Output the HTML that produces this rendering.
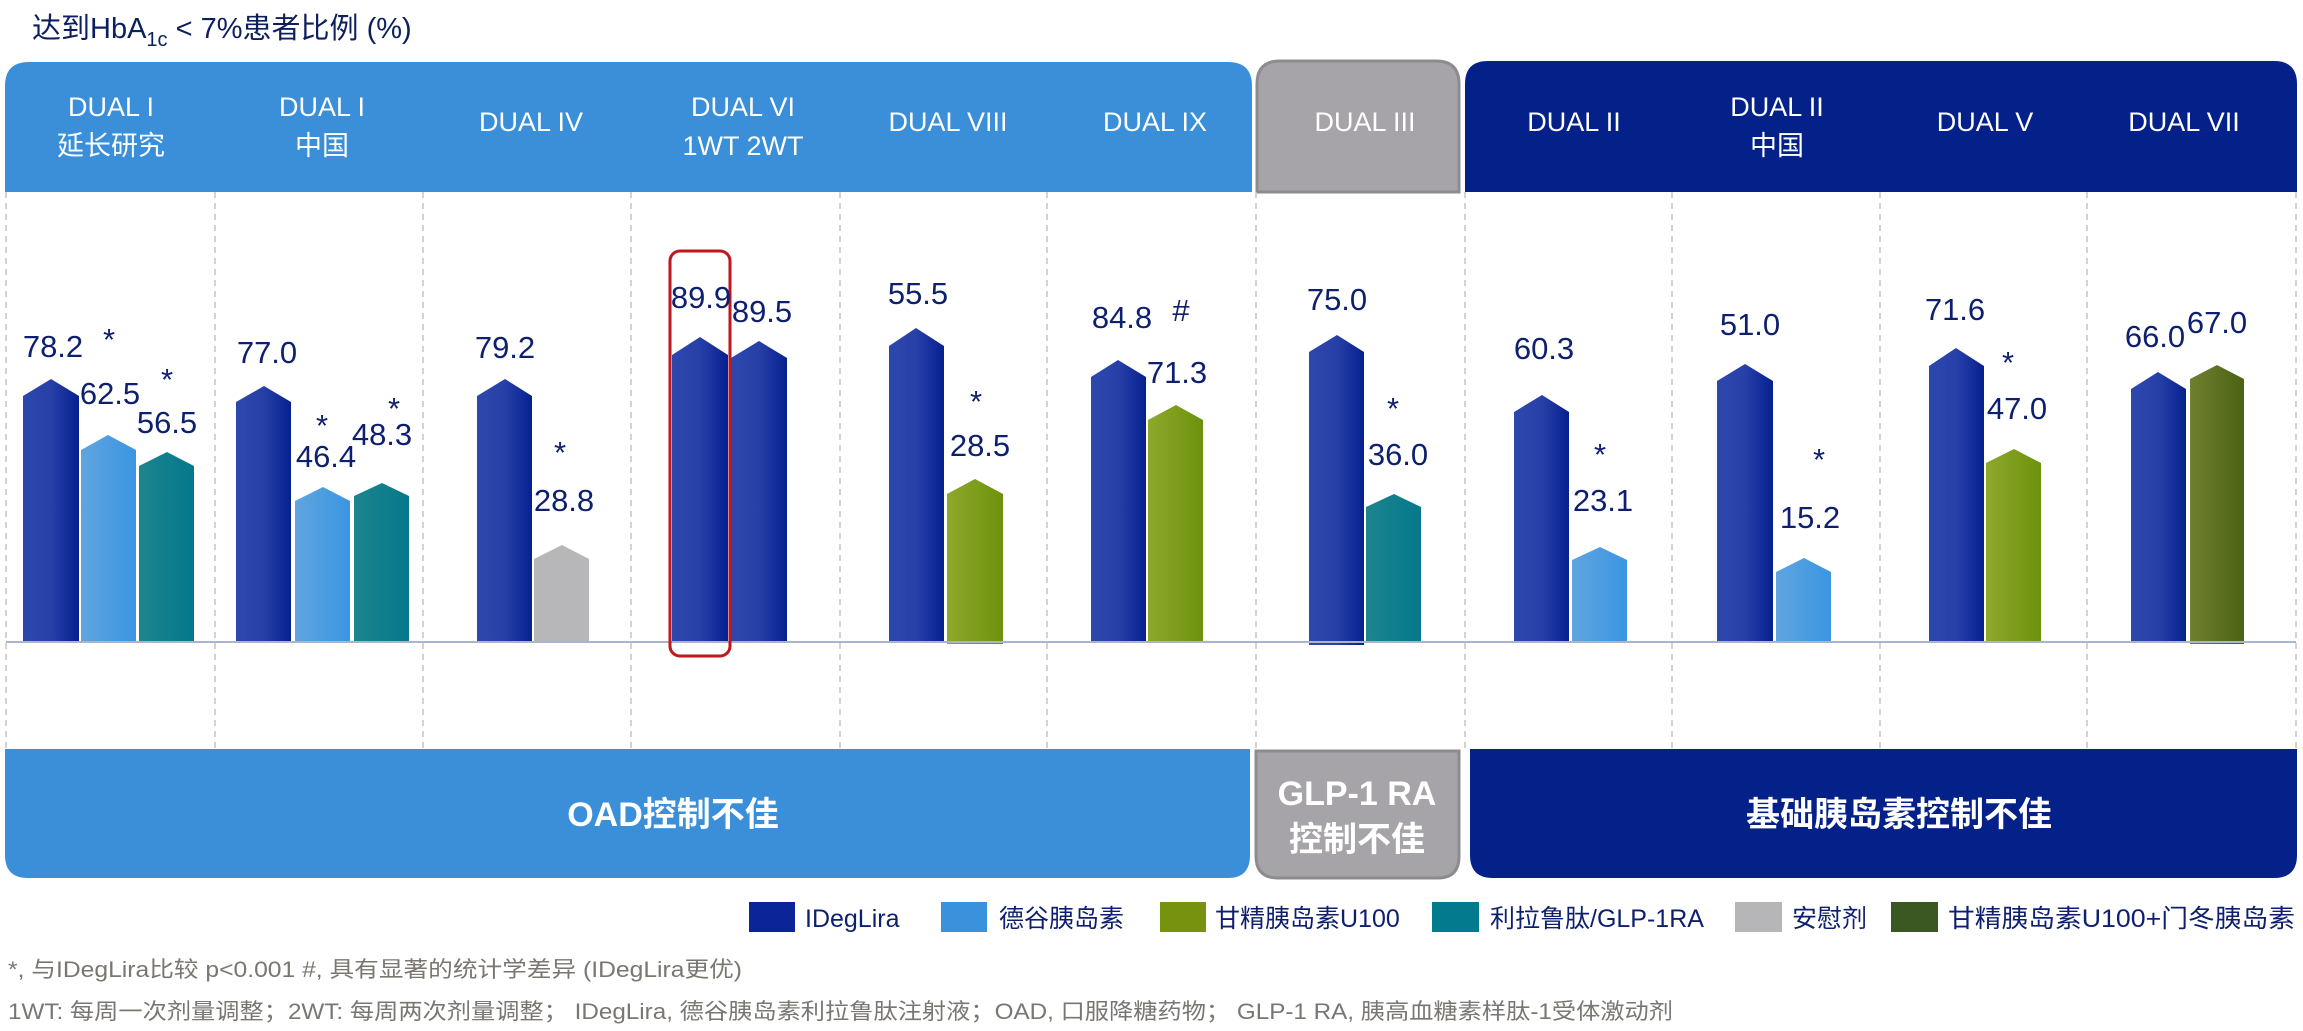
<!DOCTYPE html>
<html><head><meta charset="utf-8"><style>
html,body{margin:0;padding:0;background:#fff;}
svg{display:block;}
text{font-family:"Liberation Sans","Noto Sans CJK SC",sans-serif;}
</style></head><body>
<svg width="2303" height="1031" viewBox="0 0 2303 1031" xmlns="http://www.w3.org/2000/svg">
<defs>
<linearGradient id="gB" x1="0" x2="1"><stop offset="0" stop-color="#2d48ad"/><stop offset="0.5" stop-color="#2740a8"/><stop offset="1" stop-color="#06208f"/></linearGradient>
<linearGradient id="gL" x1="0" x2="1"><stop offset="0" stop-color="#5fa5df"/><stop offset="1" stop-color="#3b95e2"/></linearGradient>
<linearGradient id="gT" x1="0" x2="1"><stop offset="0" stop-color="#1d858e"/><stop offset="1" stop-color="#04788c"/></linearGradient>
<linearGradient id="gG" x1="0" x2="1"><stop offset="0" stop-color="#8ea82c"/><stop offset="1" stop-color="#6d920c"/></linearGradient>
<linearGradient id="gO" x1="0" x2="1"><stop offset="0" stop-color="#708030"/><stop offset="1" stop-color="#4c6214"/></linearGradient>
</defs>

<text x="32" y="38" font-size="29" fill="#0d1f5e">达到HbA<tspan font-size="20" dy="8">1c</tspan><tspan dy="-8"> &lt; 7%患者比例 (%)</tspan></text>

<path d="M5,192 V86 Q5,62 29,62 H1228 Q1252,62 1252,86 V192 Z" fill="#3a8fd8"/>
<path d="M1257,192 V84 Q1257,61 1280,61 H1436 Q1459,61 1459,84 V192 Z" fill="#a6a4a8" stroke="#8c8b8e" stroke-width="3"/>
<path d="M1465,192 V84 Q1465,61 1488,61 H2274 Q2297,61 2297,84 V192 Z" fill="#04218a"/>

<path d="M5,749 V855 Q5,878 28,878 H1228 Q1250,878 1250,855 V749 Z" fill="#3a8fd8"/>
<path d="M1256,751 V856 Q1256,878 1278,878 H1438 Q1459,878 1459,856 V751 Z" fill="#a6a4a8" stroke="#8c8b8e" stroke-width="3"/>
<path d="M1470,749 V855 Q1470,878 1493,878 H2274 Q2297,878 2297,855 V749 Z" fill="#04218a"/>

<g stroke="#c4c4c4" stroke-width="1.5" stroke-dasharray="6,5">
<line x1="6" y1="192" x2="6" y2="749"/><line x1="215" y1="192" x2="215" y2="749"/><line x1="423" y1="192" x2="423" y2="749"/><line x1="631" y1="192" x2="631" y2="749"/><line x1="840" y1="192" x2="840" y2="749"/><line x1="1047" y1="192" x2="1047" y2="749"/><line x1="1256" y1="192" x2="1256" y2="749"/><line x1="1465" y1="192" x2="1465" y2="749"/><line x1="1672" y1="192" x2="1672" y2="749"/><line x1="1880" y1="192" x2="1880" y2="749"/><line x1="2087" y1="192" x2="2087" y2="749"/><line x1="2296" y1="192" x2="2296" y2="749"/>
</g>

<g fill="#fff" font-size="27" text-anchor="middle">
<text x="111" y="116">DUAL I</text><text x="111" y="155">延长研究</text>
<text x="322" y="116">DUAL I</text><text x="322" y="155">中国</text>
<text x="531" y="131">DUAL IV</text>
<text x="743" y="116">DUAL VI</text><text x="743" y="155">1WT 2WT</text>
<text x="948" y="131">DUAL VIII</text>
<text x="1155" y="131">DUAL IX</text>
<text x="1365" y="131">DUAL III</text>
<text x="1574" y="131">DUAL II</text>
<text x="1777" y="116">DUAL II</text><text x="1777" y="155">中国</text>
<text x="1985" y="131">DUAL V</text>
<text x="2184" y="131">DUAL VII</text>
</g>

<g>
<polygon points="23,642 23,396 51,379 79,396 79,642" fill="url(#gB)"/>
<polygon points="81,642 81,450 108,435 136,450 136,642" fill="url(#gL)"/>
<polygon points="139,642 139,466 167,452 194,466 194,642" fill="url(#gT)"/>

<polygon points="236,642 236,402 264,386 291,402 291,642" fill="url(#gB)"/>
<polygon points="295,642 295,501 323,487 350,501 350,642" fill="url(#gL)"/>
<polygon points="354,642 354,496 382,483 409,496 409,642" fill="url(#gT)"/>

<polygon points="477,642 477,396 505,379 532,396 532,642" fill="url(#gB)"/>
<polygon points="534,642 534,559 562,545 589,559 589,642" fill="#b7b7b9"/>

<polygon points="672,642 672,355 700,337 728,355 728,642" fill="url(#gB)"/>
<polygon points="731,642 731,358 759,341 787,358 787,642" fill="url(#gB)"/>

<polygon points="889,642 889,346 916,328 944,346 944,642" fill="url(#gB)"/>
<polygon points="947,644 947,494 975,479 1003,494 1003,644" fill="url(#gG)"/>

<polygon points="1091,642 1091,377 1118,360 1146,377 1146,642" fill="url(#gB)"/>
<polygon points="1148,642 1148,420 1176,405 1203,420 1203,642" fill="url(#gG)"/>

<polygon points="1309,645 1309,352 1337,335 1364,352 1364,645" fill="url(#gB)"/>
<polygon points="1366,642 1366,507 1394,494 1421,507 1421,642" fill="url(#gT)"/>

<polygon points="1514,642 1514,412 1542,395 1569,412 1569,642" fill="url(#gB)"/>
<polygon points="1572,642 1572,560 1600,547 1627,560 1627,642" fill="url(#gL)"/>

<polygon points="1717,642 1717,381 1745,364 1773,381 1773,642" fill="url(#gB)"/>
<polygon points="1776,642 1776,572 1804,558 1831,572 1831,642" fill="url(#gL)"/>

<polygon points="1929,642 1929,366 1956,348 1984,366 1984,642" fill="url(#gB)"/>
<polygon points="1986,642 1986,463 2014,449 2041,463 2041,642" fill="url(#gG)"/>

<polygon points="2131,642 2131,389 2158,372 2186,389 2186,642" fill="url(#gB)"/>
<polygon points="2190,644 2190,379 2217,365 2244,379 2244,644" fill="url(#gO)"/>
</g>

<line x1="6" y1="642" x2="2296" y2="642" stroke="#aab4cc" stroke-width="2"/>

<rect x="670" y="251" width="60" height="405" rx="10" fill="none" stroke="#c0161d" stroke-width="3"/>

<g fill="#0d1f6e" font-size="31" text-anchor="middle">
<text x="53" y="357">78.2</text><text x="109" y="350">*</text>
<text x="110" y="404">62.5</text><text x="167" y="390">*</text>
<text x="167" y="433">56.5</text>
<text x="267" y="363">77.0</text><text x="322" y="436">*</text>
<text x="326" y="467">46.4</text><text x="394" y="419">*</text>
<text x="382" y="445">48.3</text>
<text x="505" y="358">79.2</text><text x="560" y="463">*</text>
<text x="564" y="511">28.8</text>
<text x="701" y="308">89.9</text><text x="762" y="322">89.5</text>
<text x="918" y="304">55.5</text><text x="976" y="412">*</text>
<text x="980" y="456">28.5</text>
<text x="1122" y="328">84.8</text><text x="1181" y="321">#</text>
<text x="1177" y="383">71.3</text>
<text x="1337" y="310">75.0</text><text x="1393" y="419">*</text>
<text x="1398" y="465">36.0</text>
<text x="1544" y="359">60.3</text><text x="1600" y="465">*</text>
<text x="1603" y="511">23.1</text>
<text x="1750" y="335">51.0</text><text x="1819" y="470">*</text>
<text x="1810" y="528">15.2</text>
<text x="1955" y="320">71.6</text><text x="2008" y="373">*</text>
<text x="2017" y="419">47.0</text>
<text x="2155" y="347">66.0</text><text x="2217" y="333">67.0</text>
</g>

<g fill="#fff" font-size="34" font-weight="bold" text-anchor="middle">
<text x="673" y="826">OAD控制不佳</text>
<text x="1357" y="805">GLP-1 RA</text><text x="1357" y="851">控制不佳</text>
<text x="1899" y="826">基础胰岛素控制不佳</text>
</g>

<g font-size="25" fill="#0d1f6e">
<rect x="749" y="902" width="46" height="30" fill="#0a2597"/><text x="805" y="927">IDegLira</text>
<rect x="941" y="902" width="46" height="30" fill="#3b92dc"/><text x="999" y="927">德谷胰岛素</text>
<rect x="1160" y="902" width="46" height="30" fill="#76920e"/><text x="1215" y="927">甘精胰岛素U100</text>
<rect x="1432" y="902" width="47" height="30" fill="#047a8e"/><text x="1490" y="927">利拉鲁肽/GLP-1RA</text>
<rect x="1735" y="902" width="47" height="30" fill="#b6b6b9"/><text x="1792" y="927">安慰剂</text>
<rect x="1891" y="902" width="47" height="30" fill="#3b5823"/><text x="1948" y="927" textLength="347" lengthAdjust="spacingAndGlyphs">甘精胰岛素U100+门冬胰岛素</text>
</g>

<g font-size="22" fill="#7a7670">
<text x="8" y="977" textLength="734" lengthAdjust="spacingAndGlyphs">*, 与IDegLira比较 p&lt;0.001 #, 具有显著的统计学差异 (IDegLira更优)</text>
<text x="8" y="1019" textLength="1665" lengthAdjust="spacingAndGlyphs">1WT: 每周一次剂量调整；2WT: 每周两次剂量调整； IDegLira, 德谷胰岛素利拉鲁肽注射液；OAD, 口服降糖药物； GLP-1  RA, 胰高血糖素样肽-1受体激动剂</text>
</g>
</svg>
</body></html>
